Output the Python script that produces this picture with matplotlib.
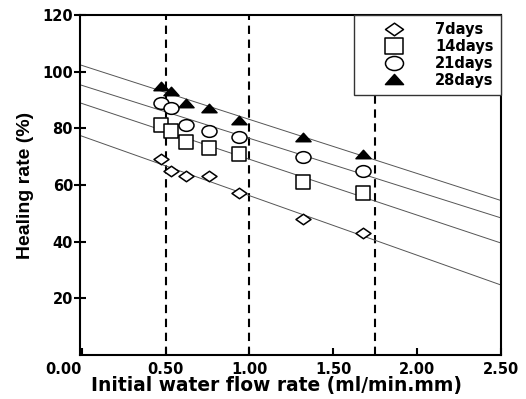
import numpy as np
import matplotlib.pyplot as plt
from matplotlib.path import Path
from matplotlib.transforms import Affine2D

plt.rcParams['font.family'] = ['DejaVu Sans']
plt.rcParams['font.weight'] = 'bold'

# flow rate values (ml/min.mm)
flow = [0.47, 0.53, 0.62, 0.76, 0.94, 1.32, 1.68]

# healing rate (%) per curing age
heal_7 = [69, 65, 63, 63, 57, 48, 43]
heal_14 = [81, 79, 75, 73, 71, 61, 57]
heal_21 = [89, 87, 81, 79, 77, 70, 65]
heal_28 = [95, 93, 89, 87, 83, 77, 71]

labels = ['7days', '14days', '21days', '28days']
series = [heal_7, heal_14, heal_21, heal_28]

vlines = [0.5, 1.0, 1.75]

# the original picture is a bit stretched sideways, so markers are wide
diamond = Path([(0, -0.35), (0.5, 0), (0, 0.35), (-0.5, 0), (0, -0.35)],
               [1, 2, 2, 2, 79])
square = Path([(-0.5, -0.46), (0.5, -0.46), (0.5, 0.46), (-0.5, 0.46), (-0.5, -0.46)],
              [1, 2, 2, 2, 79])
ellipse = Path.unit_circle().transformed(Affine2D().scale(0.5, 0.39))
triangle = Path([(-0.5, -0.28), (0.5, -0.28), (0, 0.28), (-0.5, -0.28)],
                [1, 2, 2, 79])

markers = [diamond, square, ellipse, triangle]
msizes = [10.8, 10.4, 10.8, 10.8]
faces = ['white', 'white', 'white', 'black']

fig = plt.figure(figsize=(5.26, 3.99), dpi=100)
ax = fig.add_axes([0.1521, 0.1103, 0.8004, 0.8521])

# fitted trend lines over full x range
xx = np.array([-0.01, 2.5])
for y in series:
    k, b = np.polyfit(flow, y, 1)
    ax.plot(xx, k * xx + b, color='#555555', lw=0.7, zorder=2)

for xv in vlines:
    ax.axvline(xv, color='black', ls=(0, (4, 2.7)), lw=1.5, zorder=1)

for y, lab, m, ms, fc in zip(series, labels, markers, msizes, faces):
    ax.plot(flow, y, ls='none', marker=m, ms=ms,
            mfc=fc, mec='black', mew=1.1, label=lab, zorder=3)

ax.set_xlim(-0.01, 2.5)
ax.set_ylim(0, 120)
ax.set_xticks([0, 0.5, 1.0, 1.5, 2.0, 2.5])
ax.set_xticklabels(['0.00', '0.50', '1.00', '1.50', '2.00', '2.50'])
ax.set_yticks([20, 40, 60, 80, 100, 120])
ax.tick_params(axis='x', direction='in', length=5, width=1.5, labelsize=10.5, pad=5)
ax.tick_params(axis='y', direction='inout', length=8, width=1.5, labelsize=10.5, pad=1)
for lbl in ax.get_xticklabels() + ax.get_yticklabels():
    lbl.set_fontweight('bold')
ax.get_xticklabels()[0].set_horizontalalignment('right')
for sp in ax.spines.values():
    sp.set_linewidth(1.5)

ax.set_xlabel('Initial water flow rate (ml/min.mm)', fontsize=13.4, fontweight='bold')
ax.xaxis.set_label_coords(0.467, -0.062)
ax.set_ylabel('Healing rate (%)', fontsize=14, fontweight='bold', labelpad=6,
              family='Liberation Sans')

leg = ax.legend(loc='upper right', bbox_to_anchor=(1.0, 1.0), fancybox=False,
                framealpha=1, edgecolor='#333333', borderaxespad=0,
                prop={'weight': 'bold', 'size': 10.5}, handletextpad=0.5,
                labelspacing=0.12, borderpad=0.5, handlelength=4.6,
                markerscale=1.2)
leg.get_frame().set_linewidth(1.0)

fig.savefig('out.png', dpi=100)
